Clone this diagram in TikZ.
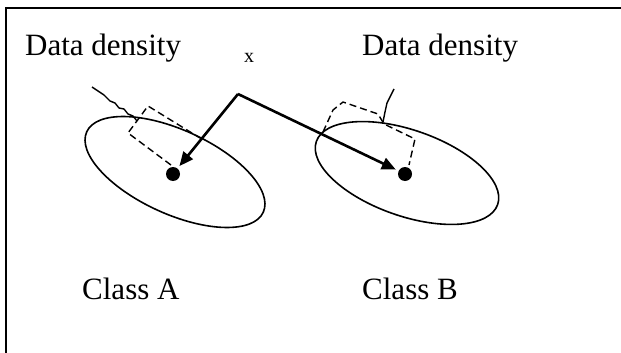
\documentclass[tikz,border=0pt]{standalone}
\usepackage{fontspec}
\setmainfont{Liberation Serif}
\usetikzlibrary{arrows.meta}
\tikzset{
  >={Triangle[length=14pt,width=12pt]},
  frameline/.style={draw=black, line width=2.2pt},
  classline/.style={draw=black, line width=1.6pt},
  densline/.style={draw=black, line width=1.4pt, line join=round},
  densdash/.style={densline, dash pattern=on 7pt off 4pt},
  classdot/.style={circle, fill=black, minimum size=14pt, inner sep=0pt},
  pointer/.style={->, line width=2.6pt, shorten >=3pt},
  biglabel/.style={font=\fontsize{31}{36}\selectfont, inner sep=0pt},
  smalllabel/.style={font=\fontsize{20}{24}\selectfont, inner sep=0pt},
}
\begin{document}
\begin{tikzpicture}[x=1pt,y=-1pt]
  \useasboundingbox (0,0) rectangle (621,353);
  % frame
  \draw[frameline] (6,360) -- (6,8) -- (630,8);

  % labels
  \node[biglabel, anchor=base west] (denA) at (25,56) {Data density};
  \node[smalllabel, anchor=base] (xlab) at (249,63) {x};
  \node[biglabel, anchor=base west] (denB) at (362,56) {Data density};
  \node[biglabel, anchor=base west] (classA) at (82,299) {Class A};
  \node[biglabel, anchor=base west] (classB) at (362,299) {Class B};

  % class regions
  \draw[classline, rotate around={-24.5:(175,172)}] (175,172) ellipse [x radius=97pt, y radius=42pt];
  \draw[classline, rotate around={-19.2:(407,173)}] (407,173) ellipse [x radius=96pt, y radius=43pt];
  \node[classdot] (dotA) at (173,174) {};
  \node[classdot] (dotB) at (405,174) {};

  % density curves
  \draw[densline] (92,87) -- (104,95) -- (110,101) -- (115,103) -- (119,108) -- (124,109) -- (128,114) -- (133,116) -- (137,121);
  \draw[densdash] (171,165) -- (128,133) -- (148,106) -- (200,138);
  \draw[densline] (383,122) -- (385,112) -- (387,103) -- (390,97) -- (394,89);
  \draw[densdash] (323,132) -- (333,110) -- (343,102) -- (378,114) -- (384,124) -- (415,139) -- (409,165);

  % test sample
  \coordinate (xpt) at (238,94);
  \draw[pointer] (xpt) -- (dotA);
  \draw[pointer] (xpt) -- (dotB);
\end{tikzpicture}
\end{document}
